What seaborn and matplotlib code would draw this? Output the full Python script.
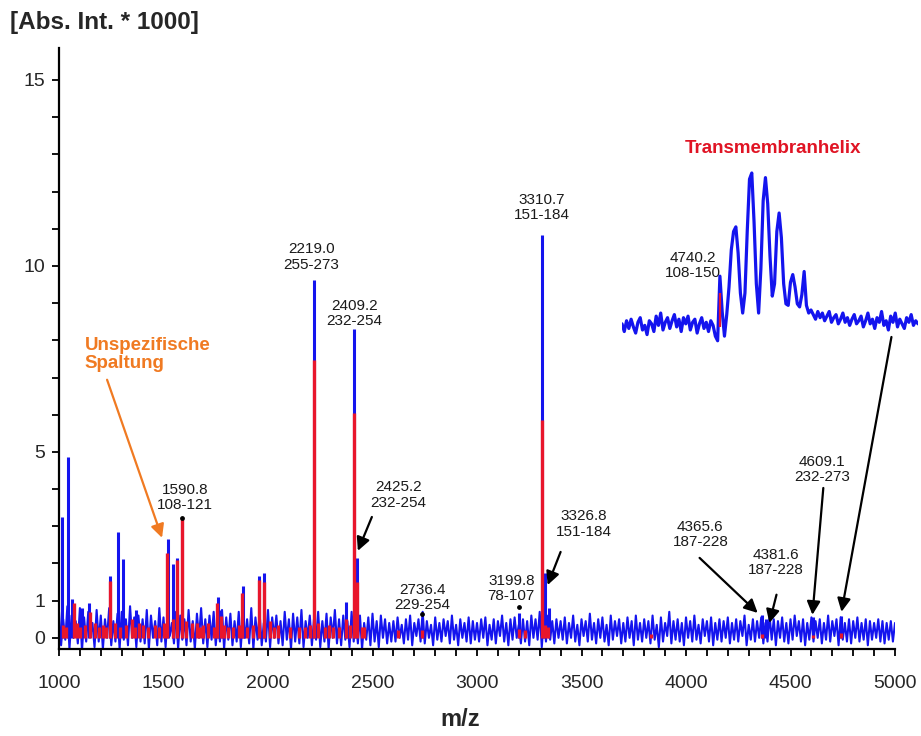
import numpy as np
import pandas as pd
import matplotlib
matplotlib.use("Agg")
import matplotlib.pyplot as plt
from matplotlib.ticker import MultipleLocator, FixedLocator
import seaborn as sns

# ---------------- data ----------------
# baseline noise: upper excursions (at 1000, 1020, ...) and lower excursions (at 1010, 1030, ...)
noise_start = 1000
noise_step = 10
noise_hi = [
    0.7, 0.5, 0.85, 0.6, 0.45, 0.8, 0.55, 0.7, 0.4, 0.75, 0.6, 0.5, 0.8, 0.45, 0.65, 0.7, 0.5, 0.85, 0.55, 0.6,
    0.5, 0.75, 0.6, 0.45, 0.8, 0.55, 0.65, 0.4, 0.7, 0.6, 0.5, 0.75, 0.45, 0.65, 0.8, 0.5, 0.6, 0.7, 0.45, 0.75,
    0.55, 0.65, 0.45, 0.7, 0.6, 0.5, 0.8, 0.55, 0.65, 0.4, 0.75, 0.55, 0.6, 0.45, 0.7, 0.5, 0.65, 0.55, 0.75, 0.45,
    0.6, 0.5, 0.7, 0.45, 0.65, 0.55, 0.75, 0.5, 0.6, 0.45, 0.7, 0.5, 0.6, 0.4, 0.55, 0.65, 0.45, 0.6, 0.5, 0.4,
    0.45, 0.55, 0.35, 0.5, 0.6, 0.4, 0.5, 0.7, 0.45, 0.35, 0.55, 0.4, 0.5, 0.45, 0.6, 0.35, 0.5, 0.4, 0.55, 0.45,
    0.4, 0.5, 0.55, 0.35, 0.5, 0.45, 0.6, 0.4, 0.5, 0.55, 0.35, 0.5, 0.45, 0.6, 0.5, 0.7, 0.55, 0.6, 0.45, 0.5,
    0.45, 0.55, 0.4, 0.6, 0.35, 0.5, 0.45, 0.65, 0.4, 0.5, 0.55, 0.35, 0.6, 0.45, 0.5, 0.4, 0.55, 0.45, 0.6, 0.4,
    0.5, 0.45, 0.6, 0.35, 0.55, 0.4, 0.7, 0.45, 0.5, 0.4, 0.55, 0.45, 0.6, 0.35, 0.5, 0.45, 0.55, 0.4, 0.5, 0.45,
    0.55, 0.4, 0.5, 0.45, 0.6, 0.35, 0.5, 0.45, 0.55, 0.4, 0.6, 0.5, 0.45, 0.55, 0.4, 0.5, 0.6, 0.45, 0.5, 0.4,
    0.55, 0.45, 0.5, 0.4, 0.6, 0.45, 0.5, 0.55, 0.4, 0.5, 0.45, 0.55, 0.4, 0.5, 0.45, 0.4, 0.5, 0.45, 0.4, 0.45,
    0.4,
]
noise_lo = [
    -0.2, -0.05, -0.3, 0.0, -0.15, -0.35, -0.1, 0.05, -0.25, -0.1, -0.3, 0.0, -0.2, -0.1, -0.3, -0.05, -0.2, 0.0, -0.25, -0.1,
    -0.15, -0.3, 0.0, -0.2, -0.1, -0.25, 0.05, -0.15, -0.3, -0.05, -0.2, -0.1, -0.3, 0.0, -0.15, -0.25, -0.05, -0.2, -0.1, -0.3,
    -0.05, -0.2, -0.1, -0.25, 0.0, -0.15, -0.3, -0.05, -0.2, -0.1, -0.25, 0.0, -0.15, -0.2, -0.05, -0.3, -0.1, -0.15, -0.25, 0.0,
    -0.2, -0.05, -0.25, -0.1, -0.3, 0.0, -0.15, -0.2, -0.05, -0.25, -0.1, -0.15, -0.3, -0.05, -0.2, -0.1, -0.25, 0.0, -0.15, -0.1,
    -0.1, 0.0, -0.15, -0.05, -0.2, 0.05, -0.1, -0.15, 0.0, -0.2, -0.05, -0.1, 0.05, -0.15, -0.05, -0.2, 0.0, -0.1, -0.15, -0.05,
    -0.1, 0.0, -0.2, -0.05, -0.15, 0.05, -0.1, -0.2, -0.05, 0.0, -0.15, -0.1, -0.2, 0.0, -0.05, -0.25, -0.1, -0.05, -0.15, 0.0,
    -0.05, -0.15, 0.0, -0.1, -0.2, 0.05, -0.1, -0.05, -0.15, 0.0, -0.1, -0.2, -0.05, 0.05, -0.15, -0.1, 0.0, -0.2, -0.05, -0.1,
    0.0, -0.15, -0.05, -0.25, -0.1, 0.05, -0.15, -0.05, -0.1, -0.2, 0.0, -0.1, -0.05, -0.15, 0.05, -0.1, -0.2, -0.05, -0.1, 0.0,
    -0.15, -0.05, -0.1, 0.05, -0.2, -0.05, -0.1, 0.0, -0.15, -0.1, -0.05, -0.2, 0.0, -0.1, -0.15, -0.05, 0.05, -0.1, -0.2, -0.05,
    -0.1, 0.0, -0.15, -0.05, -0.1, 0.05, -0.2, -0.05, -0.1, -0.15, 0.0, -0.1, -0.05, -0.2, -0.05, 0.0, -0.1, -0.15, -0.05, -0.1,
]

blue_peak_mz = [1014, 1042, 1064, 1110, 1145, 1245, 1280, 1305, 1370, 1520, 1544, 1565, 1590.8,
                1759, 1775, 1879, 1959, 1983, 2219.0, 2374, 2409.2, 2425.2, 2736.4,
                3199.8, 3310.7, 3326.8, 3345, 4365.6, 4381.6, 4609.1, 4740.2]
blue_peak_int = [3.25, 4.87, 1.05, 0.8, 0.95, 1.65, 2.85, 2.12, 0.75, 2.66, 1.99, 2.15, 3.2,
                 1.1, 0.75, 1.4, 1.67, 1.74, 9.62, 0.97, 8.3, 2.15, 0.5,
                 0.67, 10.83, 1.75, 0.8, 0.62, 0.5, 0.55, 0.6]

red_peak_mz = [1020, 1035, 1071, 1087, 1100, 1125, 1148, 1172, 1192, 1211, 1225, 1243, 1267, 1290,
               1320, 1347, 1363, 1385, 1403, 1427, 1459, 1480, 1500, 1518, 1544, 1563, 1590.8, 1610,
               1634, 1658, 1675, 1690, 1714, 1740, 1757, 1773, 1790, 1810, 1833, 1860, 1876, 1900,
               1930, 1956, 1980, 2008, 2030, 2050, 2104, 2150, 2176, 2200, 2219.0, 2240, 2272, 2290,
               2312, 2340, 2371, 2390, 2409.2, 2425.2, 2448, 2460, 2623, 2736.4,
               3199.8, 3230, 3310.7, 3326.8, 3340, 3833, 4365.6, 4609.1, 4740.2]
red_peak_int = [0.35, 0.3, 0.95, 0.4, 0.3, 0.35, 0.7, 0.4, 0.3, 0.35, 0.3, 1.52, 0.4, 0.3,
                0.35, 0.5, 0.3, 0.4, 0.35, 0.3, 0.35, 0.3, 0.4, 2.28, 0.5, 2.1, 3.2, 0.45,
                0.4, 0.4, 0.3, 0.35, 0.4, 0.3, 0.95, 0.6, 0.35, 0.3, 0.3, 0.35, 1.2, 0.3,
                0.35, 1.55, 1.5, 0.45, 0.3, 0.35, 0.3, 0.3, 0.3, 0.35, 7.47, 0.4, 0.3, 0.35,
                0.3, 0.3, 0.5, 0.35, 6.05, 1.5, 0.3, 0.3, 0.2, 0.2,
                0.25, 0.2, 5.86, 0.35, 0.3, 0.1, 0.1, 0.08, 0.12]

# zoomed view of the transmembrane helix region (1 m/z steps)
inset_start = 4697
inset_profile = [
    0.2, -0.3, 0.4, -0.1, 0.5, 0.0, -0.4, 0.3, 0.6, -0.2, 0.1, -0.5, 0.4, 0.2, -0.3, 0.7, 0.1, 0.9, -0.2, 0.3,
    0.6, -0.1, 0.4, 0.8, 0.0, 0.5, -0.3, 0.6, 0.2, 0.7, -0.2, 0.3, 0.5, -0.4, 0.2, 0.6, -0.1, 0.3, -0.3, 0.4,
    0.1, -0.6,
    -0.9, 3.3, 1.0, -0.6, 0.8, 2.6, 5.0, 6.2, 6.5, 4.8, 2.2, 0.9, 2.2, 6.2, 9.6, 10.0, 6.8, 2.8, 0.9, 3.8,
    8.2, 9.7, 8.0, 4.6, 2.0, 2.8, 6.2, 7.4, 5.8, 2.8, 1.5, 1.4, 2.9, 3.4, 2.6, 1.5, 1.3, 2.1, 3.6, 1.4,
    0.9, 1.1,
    0.8, 0.5, 1.0, 0.6, 0.9, 0.4, 0.7, 1.0, 0.3, 0.6, 0.8, 0.2, 0.5, 0.9, 0.3, 0.6, 0.1, 0.5, 0.8, 0.2,
    0.4, 0.7, 0.0, 0.4, 0.9, 0.2, 0.5, -0.1, 0.6, 0.3, 1.0, 0.1, 0.4, -0.2, 0.7, 0.3, 0.9, 0.0, 0.5, 0.2,
    -0.1, 0.6, 0.3, 0.8, 0.1, 0.4, 0.2,
]
inset_red_mz = [4740.2]
inset_red_int = [2.2]

# annotations: text, text anchor (m/z, intensity), arrow tails/tips
annot_text = ["1590.8\n108-121", "2219.0\n255-273", "2409.2\n232-254", "2425.2\n232-254",
              "2736.4\n229-254", "3310.7\n151-184", "3199.8\n78-107", "3326.8\n151-184",
              "4365.6\n187-228", "4381.6\n187-228", "4609.1\n232-273", "4740.2\n108-150"]
annot_xy = [(1602, 3.78), (2208, 10.24), (2415, 8.72), (2625, 3.84),
            (2740, 1.08), (3309, 11.57), (3164, 1.32), (3510, 3.06),
            (4069, 2.77), (4428, 2.03), (4652, 4.52), (4032, 10.0)]
arrow_tail = [(2497, 3.25), (3400, 2.31), (4065, 2.15), (4433, 1.16), (4657, 4.03), (4983, 8.09)]
arrow_tip = [(2430, 2.34), (3338, 1.42), (4343, 0.67), (4399, 0.40), (4605, 0.62), (4744, 0.70)]
dot_mz = [1590.8, 2736.4, 3199.8]
dot_int = [3.22, 0.65, 0.83]

BLUE = "#1414ee"
RED = "#e8162c"
ORANGE = "#f07a22"

# ---------------- plot ----------------
sns.set_style("ticks")
plt.rcParams["font.family"] = ["Liberation Sans", "DejaVu Sans"]

fig = plt.figure(figsize=(9.21, 7.36), dpi=100)
ax = fig.add_axes([59 / 921, 87 / 736, (895 - 59) / 921, (649 - 48) / 736])

noise_vals = np.empty(len(noise_hi) + len(noise_lo))
noise_vals[0::2] = noise_hi
noise_vals[1::2] = noise_lo
noise_df = pd.DataFrame({
    "mz": noise_start + noise_step * np.arange(len(noise_vals)),
    "int": noise_vals,
})
sns.lineplot(data=noise_df, x="mz", y="int", ax=ax, color=BLUE, lw=1.5, zorder=2)
ax.vlines(blue_peak_mz, 0, blue_peak_int, color=BLUE, lw=2.2, zorder=3)
ax.vlines(red_peak_mz, 0, red_peak_int, color=RED, lw=2.4, zorder=4)
ax.scatter(dot_mz, dot_int, s=6, color="black", zorder=5)

ax.set_xlim(1000, 5000)
ax.set_ylim(-0.3, 15.86)
ax.xaxis.set_major_locator(MultipleLocator(500))
ax.xaxis.set_minor_locator(MultipleLocator(100))
ax.yaxis.set_major_locator(FixedLocator([0, 1, 5, 10, 15]))
ax.yaxis.set_minor_locator(MultipleLocator(1))
ax.tick_params(axis="both", which="both", direction="out", length=5, width=1.3, color="black")
ax.tick_params(axis="x", which="major", labelsize=14, pad=14)
ax.tick_params(axis="y", which="major", labelsize=14, pad=5)
ax.set_xlabel("")
ax.set_ylabel("")
for s in ["top", "right"]:
    ax.spines[s].set_visible(False)
for s in ["left", "bottom"]:
    ax.spines[s].set_linewidth(1.6)
    ax.spines[s].set_color("black")

for txt, (x, y) in zip(annot_text, annot_xy):
    ax.text(x, y, txt, ha="center", va="center", fontsize=11, linespacing=1.1,
            color="#1a1a1a", zorder=6)

for tail, tip in zip(arrow_tail, arrow_tip):
    ax.annotate("", xy=tip, xytext=tail,
                arrowprops=dict(arrowstyle="-|>,head_length=0.8,head_width=0.4",
                                lw=1.6, color="black", shrinkA=0, shrinkB=0),
                zorder=6, annotation_clip=False)

ax.annotate("", xy=(1493, 2.69), xytext=(1230, 6.94),
            arrowprops=dict(arrowstyle="-|>,head_length=0.8,head_width=0.4",
                            lw=1.6, color=ORANGE, shrinkA=0, shrinkB=0), zorder=6)
ax.text(1124, 7.61, "Unspezifische\nSpaltung", ha="left", va="center", fontsize=13.5,
        fontweight="bold", color=ORANGE, linespacing=1.05)
ax.text(4414, 13.15, "Transmembranhelix", ha="center", va="center", fontsize=13.5,
        fontweight="bold", color="#e01424")

# inset of the helix region
iax = fig.add_axes([622 / 921, 386 / 736, (918 - 622) / 921, (350 - 157.6) / 736])
inset_df = pd.DataFrame({
    "mz": inset_start + np.arange(len(inset_profile)),
    "int": inset_profile,
})
sns.lineplot(data=inset_df, x="mz", y="int", ax=iax, color=BLUE, lw=2.3)
iax.vlines(inset_red_mz, 0, inset_red_int, color=RED, lw=1.6, zorder=4)
iax.set_xlim(4697, 4827)
iax.set_ylim(-1.5, 11)
iax.axis("off")
iax.patch.set_alpha(0)

fig.text(10 / 921, 1 - 22 / 736, "[Abs. Int. * 1000]", ha="left", va="center",
         fontsize=17.5, fontweight="bold")
fig.text(460 / 921, 1 - 720 / 736, "m/z", ha="center", va="center",
         fontsize=17, fontweight="bold")

fig.savefig("out.png", dpi=100)
